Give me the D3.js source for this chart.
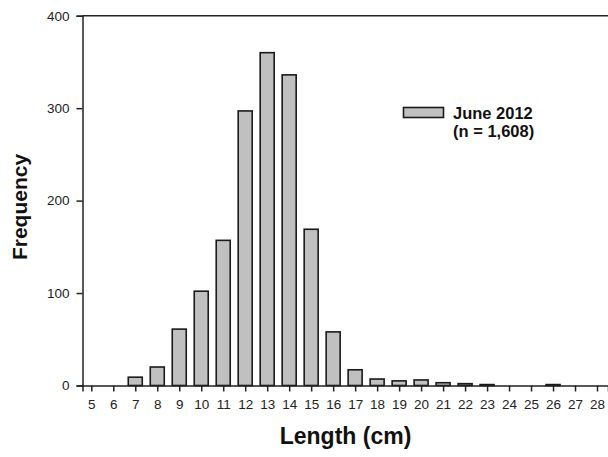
<!DOCTYPE html>
<html>
<head>
<meta charset="utf-8">
<script src="https://cdn.jsdelivr.net/npm/d3@7"></script>
<style>
  html, body { margin: 0; padding: 0; background: #fff; }
  svg { display: block; font-family: "Liberation Sans", Arial, sans-serif; }
</style>
</head>
<body>
<svg id="chart" width="608" height="457"></svg>
<script>
// Length classes (cm) and counts of fish measured in June 2012
const lengths = [5, 6, 7, 8, 9, 10, 11, 12, 13, 14, 15, 16, 17, 18, 19, 20, 21, 22, 23, 24, 25, 26, 27, 28];
const counts  = [0, 0, 9, 20, 61, 102, 157, 297, 360, 336, 169, 58, 17, 7, 5, 6, 3, 2, 1, 0, 0, 1, 0, 0];
const yTicks  = [0, 100, 200, 300, 400];
const legendLines = ["June 2012", "(n = 1,608)"];

const svg = d3.select("#chart");

const x = d3.scaleLinear().domain([4.6, 28.5]).range([82.5, 608]);
const y = d3.scaleLinear().domain([0, 400]).range([385.5, 15.7]);
const barW = 14;

// Bars
svg.append("g")
  .selectAll("rect")
  .data(lengths.map((l, i) => ({ l, c: counts[i] })).filter(d => d.c > 0))
  .join("rect")
  .attr("x", d => x(d.l) - barW / 2)
  .attr("y", d => y(d.c))
  .attr("width", barW)
  .attr("height", d => y(0) - y(d.c))
  .attr("fill", "#c0c0c0")
  .attr("stroke", "#1a1a1a")
  .attr("stroke-width", 1.6);

// Frame: top line
svg.append("line")
  .attr("x1", x.range()[0]).attr("x2", 608)
  .attr("y1", y(400)).attr("y2", y(400))
  .attr("stroke", "#222").attr("stroke-width", 1.5);

// X axis
const xAxis = svg.append("g")
  .attr("transform", `translate(0,${y(0)})`)
  .call(d3.axisBottom(x).tickValues(lengths).tickFormat(d3.format("d")).tickSizeOuter(0).tickSize(6).tickPadding(8));
xAxis.select(".domain").attr("stroke", "#222").attr("stroke-width", 1.5);
xAxis.selectAll(".tick line").attr("stroke", "#222").attr("stroke-width", 1.5);
xAxis.selectAll("text").attr("font-size", 13.5).attr("fill", "#222")
  .attr("font-family", "Liberation Sans, Arial, sans-serif");

// Y axis
const yAxis = svg.append("g")
  .attr("transform", `translate(${x.range()[0]},0)`)
  .call(d3.axisLeft(y).tickValues(yTicks).tickSizeOuter(0).tickSize(6).tickPadding(7));
yAxis.select(".domain").attr("stroke", "#222").attr("stroke-width", 1.5);
yAxis.selectAll(".tick line").attr("stroke", "#222").attr("stroke-width", 1.5);
yAxis.selectAll("text").attr("font-size", 13.5).attr("fill", "#222")
  .attr("font-family", "Liberation Sans, Arial, sans-serif");

// Axis titles
svg.append("text")
  .attr("x", 345.5).attr("y", 443.5)
  .attr("text-anchor", "middle")
  .attr("font-size", 23).attr("font-weight", "bold").attr("fill", "#111")
  .text("Length (cm)");

svg.append("text")
  .attr("transform", "translate(27,207) rotate(-90)")
  .attr("text-anchor", "middle")
  .attr("font-size", 21).attr("font-weight", "bold").attr("fill", "#111")
  .text("Frequency");

// Legend
const legend = svg.append("g");
legend.append("rect")
  .attr("x", 403.5).attr("y", 107.5).attr("width", 40).attr("height", 10)
  .attr("fill", "#c0c0c0").attr("stroke", "#1a1a1a").attr("stroke-width", 1.6);
legend.selectAll("text")
  .data(legendLines)
  .join("text")
  .attr("x", 453).attr("y", (d, i) => 118.5 + i * 18)
  .attr("font-size", 16.5).attr("font-weight", "bold").attr("fill", "#111")
  .text(d => d);
</script>
</body>
</html>
